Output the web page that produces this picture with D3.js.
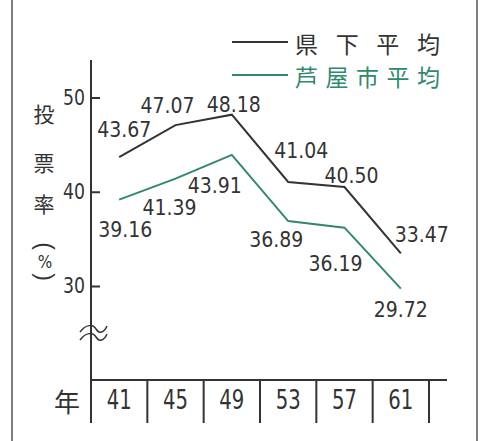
<!DOCTYPE html>
<html>
<head>
<meta charset="utf-8">
<script src="https://cdn.jsdelivr.net/npm/d3@7"></script>
<style>
  body { margin: 0; background: #fff; }
</style>
</head>
<body>
<script>
const years = ["41", "45", "49", "53", "57", "61"];
const prefAvg = [43.67, 47.07, 48.18, 41.04, 40.50, 33.47];
const ashiyaAvg = [39.16, 41.39, 43.91, 36.89, 36.19, 29.72];
const yTicks = [30, 40, 50];
const seriesNames = ["県下平均", "芦屋市平均"];

// label placement next to each point (dx, dy from the point)
const prefLabelPos = [[-22, -20], [-35, -12], [-25, -3], [-14, -24], [-20, -4], [-6, -11]];
const ashiyaLabelPos = [[-21, 37], [-33, 36], [-44, 38], [-39, 26], [-36, 43], [-27, 28]];

function main(){
    const W = 494, H = 441;
    const dark = "#333", green = "#2f8a6c";
    const numFont = "'Liberation Sans Narrow', 'DejaVu Sans Condensed', 'Liberation Sans', sans-serif";
    const cjkFont = "'Noto Sans CJK JP', sans-serif";

    const svg = d3.select("body").append("svg")
        .attr("width", W)
        .attr("height", H);

    // outer frame lines
    svg.append("line").attr("x1", 12).attr("x2", 12).attr("y1", 0).attr("y2", H)
        .attr("stroke", "#555").attr("stroke-width", 1.5);
    svg.append("line").attr("x1", 477).attr("x2", 477).attr("y1", 0).attr("y2", H)
        .attr("stroke", "#555").attr("stroke-width", 1.5);

    const xScale = d3.scaleBand().domain(years).range([91, 429]);
    const yScale = d3.scaleLinear().domain([30, 50]).range([286, 97.5]);
    const cx = d => xScale(d) + xScale.bandwidth() / 2;

    // y axis
    svg.append("line").attr("x1", 91).attr("x2", 91).attr("y1", 60).attr("y2", 423)
        .attr("stroke", dark).attr("stroke-width", 2);
    const yAxis = svg.append("g")
        .attr("transform", "translate(91,0)")
        .call(d3.axisLeft(yScale).tickValues(yTicks).tickSizeInner(-9).tickSizeOuter(0).tickPadding(6));
    yAxis.select(".domain").remove();
    yAxis.selectAll(".tick line").attr("stroke", dark).attr("stroke-width", 2);
    yAxis.selectAll(".tick text")
        .attr("font-family", numFont).attr("font-size", 21).attr("fill", dark)
        .attr("textLength", 22).attr("lengthAdjust", "spacingAndGlyphs");

    // axis break
    [329, 337].forEach(y => {
        svg.append("path")
            .attr("d", `M80,${y + 3} C86,${y - 5} 93,${y - 5} 96,${y} S104,${y + 4} 107,${y - 3}`)
            .attr("fill", "none").attr("stroke", dark).attr("stroke-width", 1.5);
    });

    // x axis
    svg.append("line").attr("x1", 91).attr("x2", 447).attr("y1", 380).attr("y2", 380)
        .attr("stroke", dark).attr("stroke-width", 2);
    years.forEach(d => {
        const xr = xScale(d) + xScale.bandwidth();
        svg.append("line").attr("x1", xr).attr("x2", xr).attr("y1", 380).attr("y2", 423)
            .attr("stroke", dark).attr("stroke-width", 2);
    });
    const xAxis = svg.append("g")
        .attr("transform", "translate(0,380)")
        .call(d3.axisBottom(xScale).tickSize(0).tickPadding(10));
    xAxis.select(".domain").remove();
    xAxis.selectAll(".tick text")
        .attr("font-family", numFont).attr("font-size", 27).attr("fill", dark)
        .attr("textLength", 25).attr("lengthAdjust", "spacingAndGlyphs");

    svg.append("text").attr("x", 67).attr("y", 400)
        .attr("text-anchor", "middle").attr("dominant-baseline", "central")
        .attr("font-family", cjkFont).attr("font-size", 26).attr("fill", dark)
        .text("年");

    // y axis title (vertical)
    const yTitle = ["投", "票", "率"];
    yTitle.forEach((c, i) => {
        svg.append("text").attr("x", 44).attr("y", [113, 162, 203][i])
            .attr("text-anchor", "middle").attr("dominant-baseline", "central")
            .attr("font-family", cjkFont).attr("font-size", 21).attr("fill", dark)
            .text(c);
    });
    // "(%)" set vertically: parentheses turned on their side
    [["(", 246], [")", 277]].forEach(([c, y]) => {
        svg.append("text")
            .attr("transform", `translate(45,${y}) rotate(90)`)
            .attr("text-anchor", "middle").attr("dominant-baseline", "central")
            .attr("font-family", "'Liberation Sans', sans-serif")
            .attr("font-size", 23).attr("fill", dark)
            .text(c);
    });
    svg.append("text").attr("x", 45).attr("y", 262)
        .attr("text-anchor", "middle").attr("dominant-baseline", "central")
        .attr("font-family", numFont).attr("font-size", 17).attr("fill", dark)
        .text("%");

    // lines
    const line = d3.line()
        .x((d, i) => cx(years[i]))
        .y(d => yScale(d));

    const series = [
        {values: prefAvg, color: dark, pos: prefLabelPos},
        {values: ashiyaAvg, color: green, pos: ashiyaLabelPos}
    ];

    series.forEach(s => {
        svg.append("path")
            .datum(s.values)
            .attr("fill", "none")
            .attr("stroke", s.color)
            .attr("stroke-width", 2)
            .attr("d", line);

        svg.append("g").selectAll("text")
            .data(s.values)
            .join("text")
            .attr("x", (d, i) => cx(years[i]) + s.pos[i][0])
            .attr("y", (d, i) => yScale(d) + s.pos[i][1])
            .attr("font-family", numFont)
            .attr("font-size", 21)
            .attr("textLength", 54)
            .attr("lengthAdjust", "spacing")
            .attr("fill", dark)
            .text(d => d3.format(".2f")(d));
    });

    // legend
    seriesNames.forEach((name, i) => {
        const y = [42, 75][i];
        const col = [dark, green][i];
        svg.append("line").attr("x1", 232).attr("x2", 288).attr("y1", y).attr("y2", y)
            .attr("stroke", col).attr("stroke-width", 2);
        svg.append("text").attr("x", 295).attr("y", y + 1)
            .attr("dominant-baseline", "central")
            .attr("font-family", cjkFont).attr("font-size", 23)
            .attr("fill", col)
            .attr("textLength", 145).attr("lengthAdjust", "spacing")
            .text(name);
    });
}
main();
</script>
</body>
</html>
